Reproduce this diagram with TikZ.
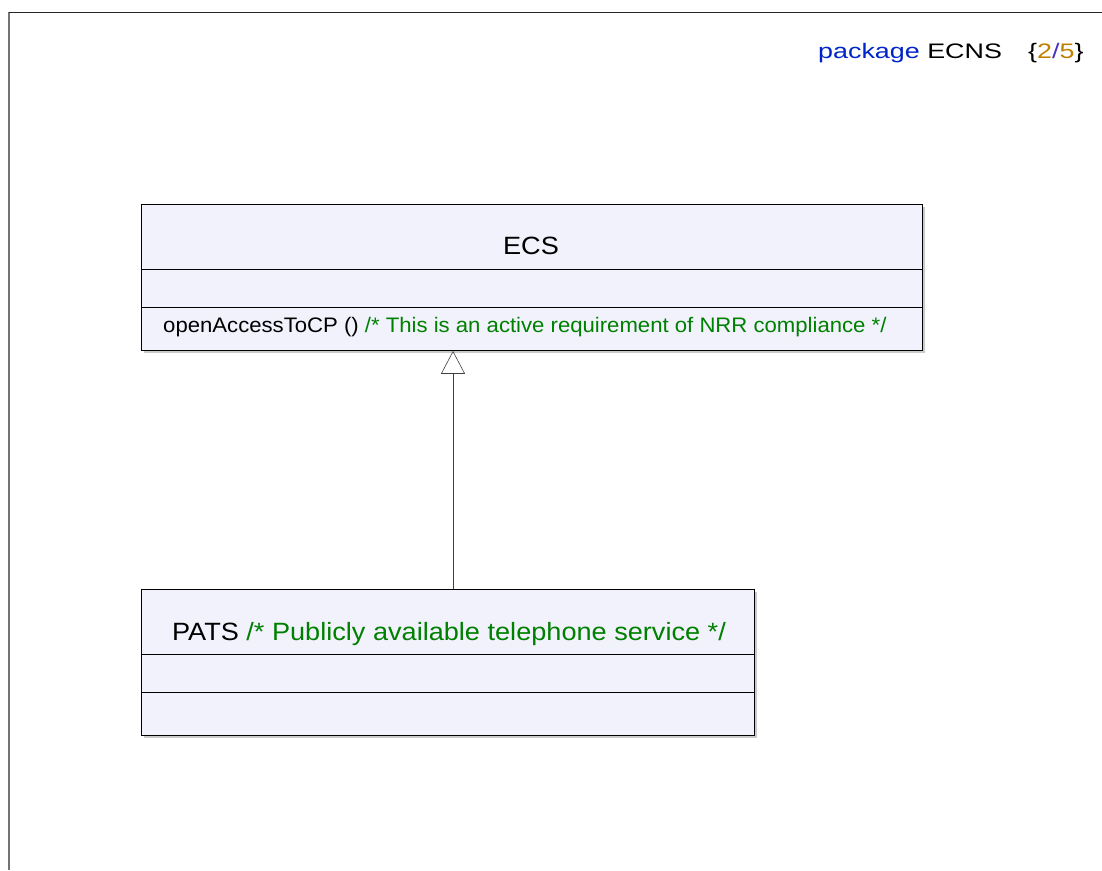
\documentclass[tikz,border=0pt]{standalone}
\usepackage{fontspec}
\setmainfont{Liberation Sans}
\usetikzlibrary{arrows.meta, positioning, shadows}

\definecolor{classfill}{RGB}{241,242,252}
\definecolor{commentgreen}{RGB}{0,128,0}
\definecolor{kwblue}{RGB}{0,36,200}
\definecolor{pagegold}{RGB}{191,128,0}
\definecolor{slashblue}{RGB}{70,50,190}

\begin{document}
\begin{tikzpicture}[
    x=1pt, y=-1pt,
    classbox/.style = {
        draw,
        fill=classfill,
        line width=0.8pt,
        anchor=north west,
        inner sep=0pt,
        drop shadow={shadow xshift=2.5pt, shadow yshift=-2.5pt,
                     fill=black!35, opacity=0.6}
    },
    title/.style = {
        font=\fontsize{25}{28}\selectfont\addfontfeatures{FakeStretch=1.085},
        inner sep=0pt
    },
    optext/.style = {
        font=\fontsize{21}{24}\selectfont\addfontfeatures{FakeStretch=1.054},
        anchor=west,
        inner sep=0pt
    },
    headtext/.style = {
        font=\fontsize{21}{24}\selectfont\addfontfeatures{FakeStretch=1.28},
        anchor=west,
        inner sep=0pt
    },
    divider/.style = {line width=0.8pt},
    gen/.style = {
        -{Triangle[open, length=23pt, width=24pt, fill=white]},
        line width=0.6pt,
        black!75
    }
]

\useasboundingbox (0,0) rectangle (1102,870);

%% ── Marco ───────────────────────────────────────────────────────────────────

\draw[black!55, line width=1.5pt] (9,870) -- (9,12);
\draw[black!85, line width=1pt] (9,12) -- (1102,12);

\node[headtext] (pkg) at (818,53)
    {\textcolor{kwblue}{package} ECNS};
\node[headtext] (page) at (1028,53)
    {\{\textcolor{pagegold}{2}\textcolor{slashblue}{/}\textcolor{pagegold}{5}\}};

%% ── Clases ──────────────────────────────────────────────────────────────────

\node[classbox, minimum width=781pt, minimum height=146pt] (ecs) at (141,204) {};
\node[title] (ecsname) at (531,246) {ECS};
\draw[divider] (ecs.north west) ++(0,65) -- ++(781,0);
\draw[divider] (ecs.north west) ++(0,103) -- ++(781,0);
\node[optext] (ecsop) at (163,327)
    {openAccessToCP () \textcolor{commentgreen}{/* This is an active requirement of NRR compliance */}};

\node[classbox, minimum width=613pt, minimum height=146pt] (pats) at (141,589) {};
\node[title] (patsname) at (449,634)
    {PATS \textcolor{commentgreen}{/* Publicly available telephone service */}};
\draw[divider] (pats.north west) ++(0,65) -- ++(613,0);
\draw[divider] (pats.north west) ++(0,103) -- ++(613,0);

%% ── Generalización ──────────────────────────────────────────────────────────

\coordinate (genx) at (453,0);
\draw[gen] (pats.north -| genx) -- (ecs.south -| genx);

\end{tikzpicture}
\end{document}
